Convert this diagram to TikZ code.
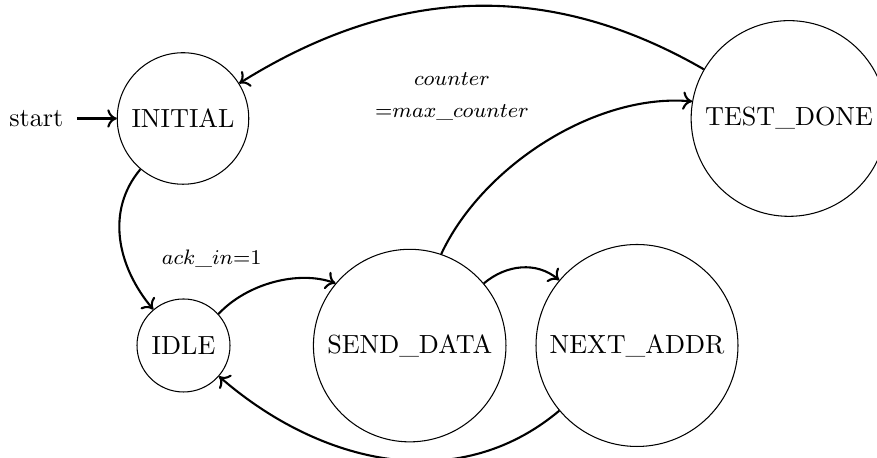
\documentclass[tikz,border=0pt]{standalone}
\usetikzlibrary{arrows.meta}
\begin{document}
\begin{tikzpicture}[x=0.3817pt,y=0.3817pt,
  state/.style={circle,draw,line width=0.4pt,inner sep=1pt,font=\normalsize},
  trans/.style={-{To[length=3.6pt,width=7pt]},thick},
  lbl/.style={font=\footnotesize,inner sep=0pt}]
\useasboundingbox (0,0) rectangle (877,458);
\node[state,minimum size=50.2pt] (INITIAL) at (183,339.5) {INITIAL};
\node[state,minimum size=35.5pt] (IDLE) at (183.5,112.5) {IDLE};
\node[state,minimum size=73.5pt] (SEND) at (409.7,112.4) {SEND\_DATA};
\node[state,minimum size=77.1pt] (NEXT) at (637,112.5) {NEXT\_ADDR};
\node[state,minimum size=74.7pt] (TEST) at (789,339.5) {TEST\_DONE};
\node[inner sep=5pt] (start) at (36.3,339.5) {start};
\node[lbl,align=center] (lc) at (452,361) {$counter$\\[2.7pt]${=}max\_counter$};
\node[lbl] (la) at (211.7,199) {$ack\_in{=}1$};
\draw[trans] (start) -- (INITIAL);
\draw[trans] (TEST) to[out=150,in=32] (INITIAL);
\draw[trans] (INITIAL) to[out=230,in=130] (IDLE);
\draw[trans] (IDLE.42) .. controls +(47:16pt) and +(160:15pt) .. (SEND.140);
\draw[trans] (SEND.71) .. controls +(65:37pt) and +(175:37pt) .. (TEST.170);
\draw[trans] (SEND) to[out=40,in=140] (NEXT);
\draw[trans] (NEXT) to[out=220,in=-41] (IDLE);
\end{tikzpicture}
\end{document}
